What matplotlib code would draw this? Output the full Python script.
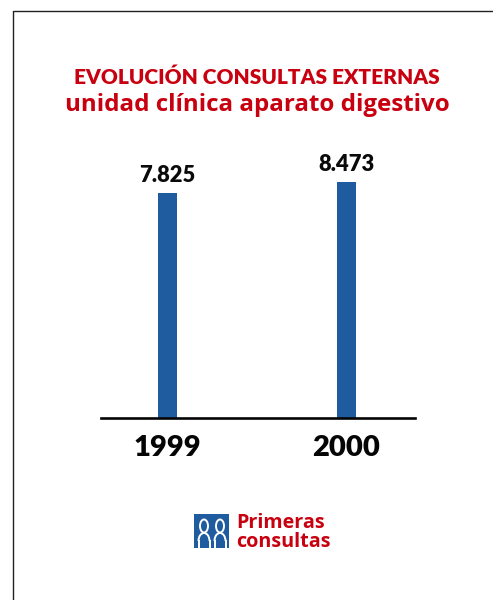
import matplotlib
matplotlib.use("Agg")
import matplotlib.pyplot as plt
from matplotlib.patches import Ellipse, Rectangle, Arc

years = ["1999", "2000"]
values = [7825, 8473]
value_labels = ["7.825", "8.473"]
title_1 = "EVOLUCIÓN CONSULTAS EXTERNAS"
title_2 = "unidad clínica aparato digestivo"
legend_label = "Primeras\nconsultas"

RED = "#c8000f"
BLUE = "#1f5b9f"
W, H = 493, 600

fig = plt.figure(figsize=(W / 100, H / 100), dpi=100, facecolor="white")
plt.rcParams["font.family"] = ["Lato", "DejaVu Sans"]

# overlay in pixel coordinates for frame, titles and legend
ov = fig.add_axes([0, 0, 1, 1])
ov.set_xlim(0, W)
ov.set_ylim(H, 0)
ov.axis("off")
ov.plot([12.5, 12.5, W], [H, 10.5, 10.5], color="#222222", lw=1.0, solid_capstyle="butt")

ov.text(256.5, 77, title_1, color=RED, fontsize=15.0, fontweight="heavy", ha="center", va="center")
ov.text(257, 105, title_2, color=RED, fontsize=17.4, fontweight="bold", ha="center", va="center",
        family=["Open Sans", "DejaVu Sans"])

# chart: baseline at pixel y=418, x-range 101..415
left, right, top, base = 101, 415, 140, 418
ax = fig.add_axes([left / W, 1 - base / H, (right - left) / W, (base - top) / H])
ax.patch.set_alpha(0)
px_per_value = (236 - 225) / (values[1] - values[0])
floor = values[0] - 225 / px_per_value
ax.set_ylim(floor, floor + (base - top) / px_per_value)
ax.set_xlim(-0.369, 1.385)
xs = [0, 1]
ax.bar(xs, [v - floor for v in values], bottom=floor, width=0.106, color=BLUE)
for x, v, lab in zip(xs, values, value_labels):
    ax.annotate(lab, (x, v), xytext=(0, 5), textcoords="offset points", ha="center", va="bottom",
                fontsize=15.8, fontweight="heavy", color="#0a0a0a")
for s in ("top", "left", "right"):
    ax.spines[s].set_visible(False)
ax.spines["bottom"].set_linewidth(1.9)
ax.spines["bottom"].set_color("#050505")
ax.set_yticks([])
ax.set_xticks(xs)
ax.set_xticklabels(years, fontsize=21, fontweight="heavy", color="#050505")
ax.tick_params(axis="x", length=0, pad=12)

# legend
ov.add_patch(Rectangle((194, 514), 35, 34, facecolor=BLUE, edgecolor="none"))
for cx in (204, 220):
    ov.add_patch(Ellipse((cx, 526), 8, 13, facecolor="none", edgecolor="white", lw=1.4))
    ov.add_patch(Arc((cx, 541), 11, 16, theta1=180, theta2=360, edgecolor="white", lw=1.4))
    ov.plot([cx - 5.5, cx - 5.5], [541, 548], color="white", lw=1.4)
    ov.plot([cx + 5.5, cx + 5.5], [541, 548], color="white", lw=1.4)
ov.text(236, 532.5, legend_label, color=RED, fontsize=14.2, fontweight="bold", ha="left", va="center",
        linespacing=0.88, family=["Open Sans", "DejaVu Sans"])

fig.savefig("out.png", dpi=100)
